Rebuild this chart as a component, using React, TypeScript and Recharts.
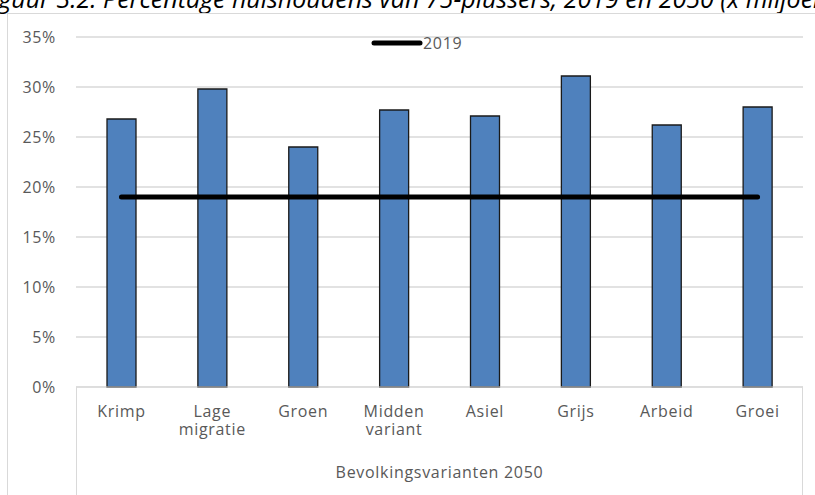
import { ComposedChart, Bar, Line, XAxis, YAxis, CartesianGrid, Legend } from 'recharts'

// Bevolkingsvarianten 2050 (x-as categorieën)
const categories = ['Krimp', 'Lage migratie', 'Groen', 'Midden variant', 'Asiel', 'Grijs', 'Arbeid', 'Groei']
// aandeel huishoudens 75+ in 2050, in %
const share2050 = [26.8, 29.8, 24.0, 27.7, 27.1, 31.1, 26.2, 28.0]
// niveau 2019, in %
const level2019 = [19, 19, 19, 19, 19, 19, 19, 19]
const yTicks = [0, 5, 10, 15, 20, 25, 30, 35]

const data = categories.map((name, i) => ({ name, share: share2050[i], base: level2019[i] }))

const FONT = '"Open Sans", "Liberation Sans", sans-serif'
const GREY = '#d9d9d9'
const TEXT = '#595959'
const SPACING = 0.7

function CategoryTick(props: any) {
  const { x, y, payload } = props
  const lines = String(payload.value).split(' ')
  return (
    <text x={x} y={y} textAnchor="middle" fill={TEXT} fontSize={16} fontFamily={FONT} letterSpacing={SPACING}>
      {lines.map((l: string, i: number) => (
        <tspan key={i} x={x} y={y + 28 + i * 18}>{l}</tspan>
      ))}
    </text>
  )
}

function LegendContent() {
  return (
    <div style={{ display: 'flex', alignItems: 'center', fontFamily: FONT, fontSize: 16, color: TEXT, letterSpacing: SPACING }}>
      <svg width={52} height={10}>
        <line x1={3} y1={5} x2={49} y2={5} stroke="#000" strokeWidth={5} strokeLinecap="round" />
      </svg>
      <span style={{ lineHeight: '16px' }}>2019</span>
    </div>
  )
}

export default function App() {
  return (
    <div style={{ position: 'absolute', left: 0, top: 0, width: 815, height: 495, overflow: 'hidden', background: '#fff' }}>
      <div
        style={{
          position: 'absolute', left: -20, top: -14, whiteSpace: 'nowrap',
          fontFamily: FONT, fontStyle: 'italic', fontSize: 25, lineHeight: '25px', color: '#000',
        }}
      >
        Figuur 3.2: Percentage huishoudens van 75-plussers, 2019 en 2050 (x miljoen)
      </div>
      {/* kader van de grafiek */}
      <div style={{ position: 'absolute', left: 7, top: 13, width: 900, height: 600, border: `1px solid ${GREY}` }} />
      {/* kader rond de categorie-as */}
      <div style={{ position: 'absolute', left: 76, top: 387, width: 1, height: 120, background: GREY }} />
      <div style={{ position: 'absolute', left: 802, top: 387, width: 1, height: 120, background: GREY }} />
      <div style={{ position: 'absolute', left: 0, top: 0 }}>
        <ComposedChart width={815} height={495} data={data} margin={{ top: 37, right: 12, bottom: 0, left: 16 }}>
          <CartesianGrid vertical={false} stroke={GREY} strokeWidth={1.5} />
          <XAxis
            dataKey="name"
            height={108}
            tickLine={false}
            tickSize={0}
            axisLine={{ stroke: GREY }}
            interval={0}
            tick={<CategoryTick />}
            label={{ value: 'Bevolkingsvarianten 2050', position: 'insideBottom', offset: 17, fill: TEXT, fontSize: 16, fontFamily: FONT, letterSpacing: SPACING }}
          />
          <YAxis
            width={60}
            domain={[0, 35]}
            ticks={yTicks}
            tickFormatter={(v: number) => `${v}%`}
            axisLine={false}
            tickLine={false}
            tickSize={0}
            tickMargin={20}
            tick={{ fill: TEXT, fontSize: 16, fontFamily: FONT, letterSpacing: SPACING }}
          />
          <Legend
            layout="horizontal"
            verticalAlign="middle"
            align="center"
            wrapperStyle={{ top: 35, left: 371, width: 'auto' }}
            content={() => <LegendContent />}
          />
          <Bar dataKey="share" name="2050" fill="#4f81bd" stroke="#1a1a1a" strokeWidth={1.3} barSize={29} isAnimationActive={false} />
          <Line
            dataKey="base"
            name="2019"
            stroke="#000"
            strokeWidth={5}
            strokeLinecap="round"
            dot={false}
            activeDot={false}
            isAnimationActive={false}
          />
        </ComposedChart>
      </div>
    </div>
  )
}
